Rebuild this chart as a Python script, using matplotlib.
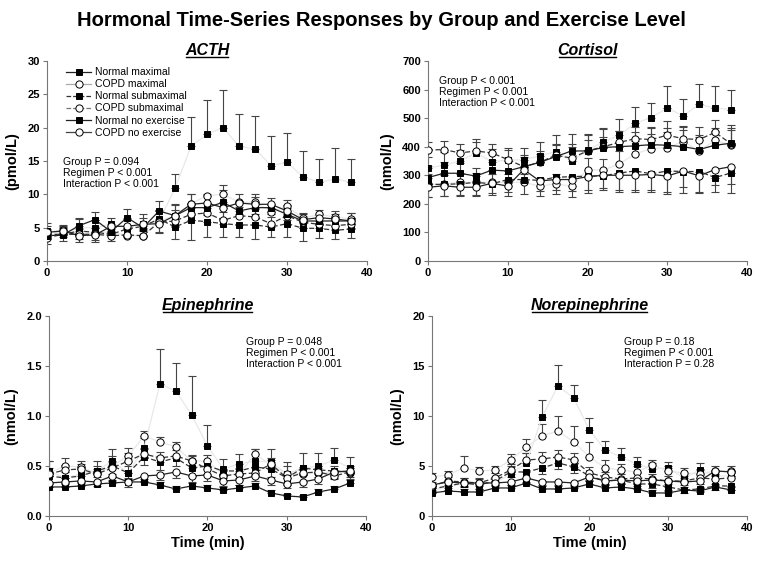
import numpy as np
import matplotlib
matplotlib.use("Agg")
import matplotlib.pyplot as plt
from matplotlib.lines import Line2D

plt.rcParams['font.family'] = ['Liberation Sans', 'DejaVu Sans']

# time points (min)
time = [0, 2, 4, 6, 8, 10, 12, 14, 16, 18, 20, 22, 24, 26, 28, 30, 32, 34, 36, 38]

labels = ["Normal maximal", "COPD maximal", "Normal submaximal",
          "COPD submaximal", "Normal no exercise", "COPD no exercise"]

# ---- ACTH (pmol/L)
acth_nm = [4.5, 4.2, 5.0, 5.0, 5.5, 5.0, 5.5, 6.0, 10.9, 17.2, 19.0, 20.0, 17.2, 16.8, 14.3, 14.8, 12.6, 11.8, 12.3, 11.8]
acth_cm = [4.4, 4.6, 4.0, 4.2, 4.4, 3.8, 3.8, 6.0, 6.8, 8.6, 9.8, 10.0, 8.8, 8.8, 7.4, 8.2, 6.4, 7.0, 6.6, 6.3]
acth_ns = [4.0, 4.0, 4.5, 4.3, 4.0, 4.8, 5.2, 6.3, 5.1, 6.1, 5.9, 5.6, 5.4, 5.4, 5.1, 5.6, 4.9, 4.9, 4.6, 4.8]
acth_cs = [3.5, 4.0, 4.0, 4.0, 3.8, 3.9, 3.8, 5.8, 6.0, 7.0, 7.2, 6.1, 6.8, 6.6, 5.6, 6.8, 5.8, 5.5, 5.3, 5.5]
acth_nn = [3.8, 3.9, 5.3, 6.2, 4.4, 6.5, 5.0, 7.5, 6.8, 8.0, 8.0, 8.8, 7.5, 8.0, 8.0, 7.0, 6.0, 6.0, 6.0, 6.0]
acth_cn = [4.3, 4.5, 3.8, 3.9, 5.2, 5.2, 5.5, 5.6, 6.8, 8.5, 8.7, 8.0, 8.7, 8.5, 8.5, 7.5, 6.2, 6.5, 6.3, 6.0]
acth_nm_err = [1.2, 1.0, 1.3, 1.2, 1.0, 1.3, 1.5, 1.6, 2.1, 4.4, 5.1, 5.7, 4.8, 5.0, 4.4, 4.4, 3.9, 3.5, 4.7, 3.5]
acth_cm_err = [0.9, 0.8, 0.8, 0.9, 1.0, 1.0, 1.0, 1.5, 1.8, 1.5, 0.3, 1.4, 1.2, 1.3, 1.0, 1.0, 0.7, 0.7, 0.9, 0.9]
acth_ns_err = [1.5, 1.0, 1.2, 1.2, 1.0, 1.0, 1.5, 2.0, 1.8, 3.0, 2.3, 2.0, 1.8, 2.1, 1.5, 2.0, 1.9, 1.4, 1.3, 1.4]
acth_cs_err = [1.2, 1.0, 1.1, 1.0, 1.0, 1.1, 0.9, 1.8, 1.6, 1.5, 1.5, 1.2, 1.3, 1.2, 1.0, 1.2, 1.0, 1.0, 0.9, 1.0]
acth_nn_err = [1.0, 1.2, 1.2, 1.2, 1.2, 1.3, 1.4, 1.5, 1.6, 2.0, 1.9, 1.8, 1.5, 1.6, 1.4, 1.4, 1.2, 1.1, 1.1, 1.2]
acth_cn_err = [1.0, 0.9, 1.0, 1.0, 1.2, 1.1, 1.0, 1.4, 1.5, 1.6, 1.8, 1.7, 1.6, 1.5, 1.4, 1.3, 1.2, 1.1, 1.0, 1.0]

# ---- Cortisol (nmol/L)
cort_nm = [325, 335, 350, 378, 348, 352, 355, 367, 383, 350, 388, 417, 440, 482, 502, 535, 508, 548, 535, 530]
cort_cm = [268, 270, 275, 275, 275, 275, 275, 262, 270, 262, 320, 318, 340, 375, 393, 397, 418, 385, 422, 405]
cort_ns = [268, 268, 270, 275, 270, 285, 285, 282, 293, 295, 297, 298, 308, 315, 305, 315, 313, 313, 292, 308]
cort_cs = [388, 390, 378, 385, 378, 355, 330, 345, 370, 360, 385, 400, 415, 428, 425, 440, 428, 425, 450, 410]
cort_nn = [292, 307, 307, 297, 318, 315, 330, 345, 365, 385, 385, 397, 400, 403, 407, 405, 400, 390, 405, 412]
cort_cn = [258, 263, 258, 258, 272, 262, 320, 280, 285, 285, 295, 300, 300, 300, 303, 297, 315, 298, 320, 330]
cort_nm_err = [40, 45, 40, 48, 45, 42, 40, 50, 58, 60, 55, 48, 58, 58, 50, 78, 60, 72, 78, 68]
cort_cm_err = [35, 30, 30, 32, 30, 30, 28, 30, 35, 35, 40, 40, 45, 45, 50, 55, 50, 50, 45, 60]
cort_ns_err = [45, 40, 40, 45, 40, 45, 50, 55, 60, 70, 60, 50, 65, 75, 65, 80, 75, 75, 50, 70]
cort_cs_err = [30, 30, 30, 30, 30, 35, 40, 30, 35, 40, 40, 35, 40, 40, 45, 50, 45, 45, 45, 50]
cort_nn_err = [40, 40, 35, 30, 35, 35, 35, 40, 45, 60, 55, 65, 55, 50, 60, 60, 60, 50, 50, 65]
cort_cn_err = [35, 35, 30, 30, 35, 35, 40, 35, 35, 40, 45, 45, 50, 50, 55, 55, 55, 55, 55, 60]

# ---- Epinephrine (nmol/L)
epi_nm = [0.45, 0.38, 0.42, 0.45, 0.55, 0.43, 0.68, 1.32, 1.25, 1.01, 0.70, 0.47, 0.52, 0.55, 0.54, 0.42, 0.48, 0.50, 0.56, 0.48]
epi_cm = [0.43, 0.50, 0.49, 0.43, 0.50, 0.60, 0.80, 0.74, 0.69, 0.55, 0.55, 0.41, 0.42, 0.62, 0.51, 0.42, 0.42, 0.43, 0.44, 0.43]
epi_ns = [0.40, 0.38, 0.40, 0.45, 0.50, 0.43, 0.59, 0.54, 0.58, 0.48, 0.50, 0.45, 0.45, 0.49, 0.47, 0.38, 0.48, 0.46, 0.45, 0.44]
epi_cs = [0.42, 0.46, 0.47, 0.42, 0.48, 0.55, 0.62, 0.58, 0.60, 0.55, 0.47, 0.40, 0.42, 0.43, 0.52, 0.38, 0.43, 0.44, 0.40, 0.44]
epi_nn = [0.29, 0.29, 0.30, 0.32, 0.33, 0.34, 0.34, 0.31, 0.27, 0.30, 0.28, 0.26, 0.28, 0.30, 0.23, 0.20, 0.19, 0.24, 0.27, 0.33]
epi_cn = [0.33, 0.34, 0.35, 0.34, 0.40, 0.34, 0.40, 0.41, 0.44, 0.40, 0.41, 0.35, 0.36, 0.40, 0.36, 0.32, 0.34, 0.37, 0.44, 0.45]
epi_nm_err = [0.10, 0.06, 0.05, 0.10, 0.12, 0.07, 0.10, 0.35, 0.28, 0.39, 0.21, 0.10, 0.10, 0.12, 0.13, 0.12, 0.15, 0.13, 0.12, 0.11]
epi_cm_err = [0.12, 0.08, 0.06, 0.07, 0.10, 0.08, 0.05, 0.05, 0.05, 0.05, 0.06, 0.05, 0.05, 0.05, 0.05, 0.08, 0.05, 0.05, 0.06, 0.05]
epi_ns_err = [0.06, 0.05, 0.06, 0.06, 0.08, 0.06, 0.08, 0.08, 0.08, 0.08, 0.08, 0.07, 0.07, 0.08, 0.08, 0.07, 0.07, 0.07, 0.08, 0.07]
epi_cs_err = [0.06, 0.05, 0.05, 0.05, 0.06, 0.08, 0.05, 0.06, 0.06, 0.06, 0.08, 0.06, 0.06, 0.06, 0.06, 0.06, 0.06, 0.06, 0.06, 0.06]
epi_nn_err = [0.03, 0.03, 0.03, 0.03, 0.03, 0.04, 0.03, 0.03, 0.03, 0.03, 0.03, 0.03, 0.03, 0.03, 0.03, 0.02, 0.02, 0.03, 0.03, 0.03]
epi_cn_err = [0.04, 0.04, 0.04, 0.04, 0.05, 0.05, 0.05, 0.05, 0.06, 0.06, 0.06, 0.05, 0.05, 0.05, 0.05, 0.04, 0.05, 0.05, 0.06, 0.06]

# ---- Norepinephrine (nmol/L)
nor_nm = [2.5, 3.0, 3.2, 3.2, 3.3, 4.2, 5.3, 9.9, 13.0, 11.8, 8.6, 6.6, 5.9, 5.2, 4.7, 4.8, 3.8, 4.6, 4.0, 4.0]
nor_cm = [3.9, 4.1, 4.8, 4.5, 4.6, 5.6, 6.9, 8.0, 8.5, 7.4, 5.9, 4.8, 4.6, 4.4, 5.1, 4.5, 4.3, 4.2, 4.5, 4.5]
nor_ns = [2.7, 3.0, 3.3, 3.1, 3.5, 4.4, 4.4, 4.8, 5.3, 4.9, 4.0, 3.5, 3.6, 3.2, 3.2, 2.9, 2.6, 2.7, 3.0, 3.0]
nor_cs = [3.0, 3.5, 3.4, 3.3, 3.8, 4.6, 5.6, 5.7, 5.9, 5.6, 4.3, 3.9, 3.7, 3.8, 3.7, 3.5, 3.5, 3.8, 3.7, 3.8]
nor_nn = [2.3, 2.5, 2.4, 2.4, 2.8, 2.8, 3.3, 2.7, 2.7, 2.8, 3.2, 2.8, 2.9, 2.7, 2.3, 2.3, 2.6, 2.5, 2.9, 2.6]
nor_cn = [3.1, 3.4, 3.3, 3.3, 3.3, 3.4, 3.8, 3.4, 3.4, 3.3, 3.9, 3.5, 3.6, 3.5, 3.6, 3.5, 3.4, 3.5, 4.5, 4.4]
nor_nm_err = [0.5, 0.5, 0.6, 0.6, 0.6, 0.8, 1.0, 1.7, 2.1, 1.3, 1.2, 0.9, 0.9, 0.7, 0.6, 0.6, 0.5, 0.7, 0.5, 0.5]
nor_cm_err = [0.4, 0.4, 1.2, 0.4, 0.4, 0.6, 0.8, 1.2, 1.5, 1.6, 1.5, 0.8, 0.6, 0.6, 0.5, 0.5, 0.5, 0.5, 0.5, 0.5]
nor_ns_err = [0.4, 0.4, 0.4, 0.4, 0.4, 0.5, 0.6, 0.6, 0.6, 0.6, 0.5, 0.4, 0.4, 0.4, 0.4, 0.4, 0.3, 0.3, 0.4, 0.4]
nor_cs_err = [0.4, 0.4, 0.4, 0.4, 0.5, 0.6, 0.7, 0.7, 0.7, 0.7, 0.6, 0.5, 0.5, 0.5, 0.5, 0.5, 0.5, 0.5, 0.5, 0.5]
nor_nn_err = [0.3, 0.3, 0.3, 0.3, 0.3, 0.3, 0.4, 0.3, 0.3, 0.3, 0.4, 0.3, 0.3, 0.3, 0.3, 0.3, 0.3, 0.3, 0.3, 0.3]
nor_cn_err = [0.3, 0.3, 0.3, 0.3, 0.3, 0.3, 0.4, 0.3, 0.3, 0.3, 0.4, 0.3, 0.3, 0.3, 0.3, 0.3, 0.3, 0.3, 0.4, 0.4]

panels = [
    ("ACTH", "(pmol/L)", 30, 5, [acth_nm, acth_cm, acth_ns, acth_cs, acth_nn, acth_cn],
     [acth_nm_err, acth_cm_err, acth_ns_err, acth_cs_err, acth_nn_err, acth_cn_err],
     "Group P = 0.094\nRegimen P < 0.001\nInteraction P < 0.001"),
    ("Cortisol", "(nmol/L)", 700, 100, [cort_nm, cort_cm, cort_ns, cort_cs, cort_nn, cort_cn],
     [cort_nm_err, cort_cm_err, cort_ns_err, cort_cs_err, cort_nn_err, cort_cn_err],
     "Group P < 0.001\nRegimen P < 0.001\nInteraction P < 0.001"),
    ("Epinephrine", "(nmol/L)", 2.0, 0.5, [epi_nm, epi_cm, epi_ns, epi_cs, epi_nn, epi_cn],
     [epi_nm_err, epi_cm_err, epi_ns_err, epi_cs_err, epi_nn_err, epi_cn_err],
     "Group P = 0.048\nRegimen P < 0.001\nInteraction P < 0.001"),
    ("Norepinephrine", "(nmol/L)", 20, 5, [nor_nm, nor_cm, nor_ns, nor_cs, nor_nn, nor_cn],
     [nor_nm_err, nor_cm_err, nor_ns_err, nor_cs_err, nor_nn_err, nor_cn_err],
     "Group P = 0.18\nRegimen P < 0.001\nInteraction P = 0.28"),
]

# style per series: marker fill, line style, line colour, error direction (+1 up, -1 down)
styles = [
    ("black", "-", "#e8e8e8", 1),
    ("white", "-", "#e8e8e8", 1),
    ("black", "--", "#333333", -1),
    ("white", "--", "#333333", 1),
    ("black", "-", "#222222", 1),
    ("white", "-", "#222222", -1),
]
legend_colors = ["#222222", "#aaaaaa", "#333333", "#777777", "#222222", "#444444"]

axes_rects = [
    [0.0617, 0.5356, 0.420, 0.356],
    [0.5617, 0.5356, 0.4186, 0.356],
    [0.0643, 0.0819, 0.416, 0.356],
    [0.5670, 0.0819, 0.413, 0.356],
]
text_pos = [(0.05, 0.52), (0.035, 0.925), (0.62, 0.895), (0.61, 0.895)]

fig = plt.figure(figsize=(7.62, 5.62), dpi=100)
fig.text(0.5, 0.964, "Hormonal Time-Series Responses by Group and Exercise Level",
         ha="center", va="center", fontsize=14.5, fontweight="bold")

titles = []
for i, (name, unit, ymax, ystep, series, errs, stats) in enumerate(panels):
    ax = fig.add_axes(axes_rects[i])
    for j in range(6):
        mfc, ls, lc, d = styles[j]
        y = np.array(series[j])
        e = np.array(errs[j])
        yerr = [np.zeros_like(e), e] if d > 0 else [e, np.zeros_like(e)]
        ax.errorbar(time, y, yerr=yerr, fmt="none", ecolor="#444444",
                    elinewidth=0.8, capsize=3, capthick=0.8, zorder=2)
        ax.plot(time, y, linestyle=ls, color=lc, lw=0.9, zorder=3,
                dashes=(4, 2) if ls == "--" else (None, None))
        ax.plot(time, y, linestyle="none", marker="s" if mfc == "black" else "o",
                markersize=4.8 if mfc == "black" else 5.2, markerfacecolor=mfc,
                markeredgecolor="black", markeredgewidth=0.7, zorder=4)

    ax.set_xlim(0, 40)
    ax.set_ylim(0, ymax)
    ax.set_xticks([0, 10, 20, 30, 40])
    ax.set_yticks(np.arange(0, ymax + ystep / 2, ystep))
    if ymax == 2.0:
        ax.set_yticklabels(["%.1f" % v for v in np.arange(0, ymax + ystep / 2, ystep)])
    for side in ("top", "right"):
        ax.spines[side].set_visible(False)
    for side in ("left", "bottom"):
        ax.spines[side].set_color("#777777")
        ax.spines[side].set_linewidth(0.8)
    ax.tick_params(direction="out", length=3, width=0.8, color="#777777",
                   labelsize=8, pad=2)
    for lab in ax.get_xticklabels() + ax.get_yticklabels():
        lab.set_fontweight("bold")
    ax.set_ylabel(unit, fontsize=10.5, fontweight="bold", labelpad=6)
    if i >= 2:
        ax.set_xlabel("Time (min)", fontsize=10.5, fontweight="bold", labelpad=2)

    t = ax.set_title(name, fontsize=11.5, fontweight="bold", fontstyle="italic", pad=4)
    titles.append(t)

    tx, ty = text_pos[i]
    ax.text(tx, ty, stats, transform=ax.transAxes, fontsize=7.5, va="top",
            ha="left", linespacing=1.15)

    if i == 0:
        handles = []
        for j in range(6):
            mfc, ls, lc, d = styles[j]
            handles.append(Line2D([], [], color=legend_colors[j],
                                  linestyle=ls, lw=0.9,
                                  marker="s" if mfc == "black" else "o",
                                  markersize=4.8 if mfc == "black" else 5.2,
                                  markerfacecolor=mfc, markeredgecolor="black",
                                  markeredgewidth=0.7))
        ax.legend(handles, labels, loc="upper left", bbox_to_anchor=(0.04, 1.0),
                  frameon=False, fontsize=7.5, handlelength=2.4, handletextpad=0.4,
                  labelspacing=0.2, borderaxespad=0.2)

# underline the panel titles
fig.canvas.draw()
renderer = fig.canvas.get_renderer()
inv = fig.transFigure.inverted()
for t in titles:
    bb = t.get_window_extent(renderer)
    (x0, y0), (x1, y1) = inv.transform([(bb.x0, bb.y0), (bb.x1, bb.y1)])
    yl = y0 + (y1 - y0) * 0.12
    fig.add_artist(Line2D([x0 + 0.002, x1 - 0.002], [yl, yl], transform=fig.transFigure,
                          color="black", lw=1.0))

fig.savefig("out.png", dpi=100)
